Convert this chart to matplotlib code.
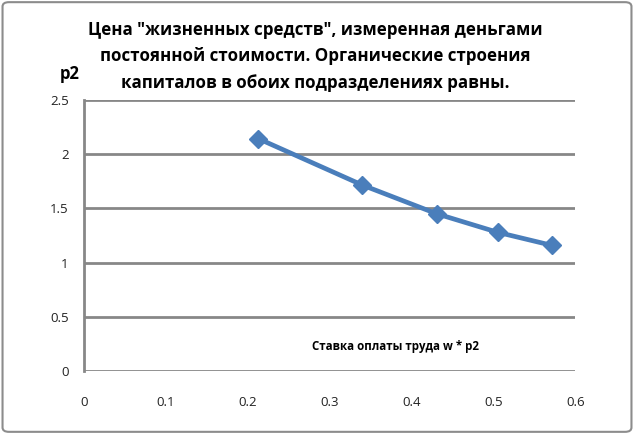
import matplotlib
matplotlib.use("Agg")
import matplotlib.pyplot as plt
from matplotlib.patches import FancyBboxPatch

# data
wage = [0.213, 0.340, 0.431, 0.505, 0.571]
p2 = [2.143, 1.715, 1.450, 1.280, 1.160]
xticks = [0, 0.1, 0.2, 0.3, 0.4, 0.5, 0.6]
yticks = [0, 0.5, 1, 1.5, 2, 2.5]

title = ('Цена "жизненных средств", измеренная деньгами\n'
         'постоянной стоимости. Органические строения\n'
         'капиталов в обоих подразделениях равны.')

plt.rcParams['font.family'] = ['Open Sans', 'DejaVu Sans']
grid_c = '#878787'
blue = '#4a7ebb'

fig = plt.figure(figsize=(6.34, 4.34), dpi=100)
fig.patches.append(FancyBboxPatch((0.004, 0.005), 0.992, 0.99,
                                  boxstyle='round,pad=0,rounding_size=0.01',
                                  transform=fig.transFigure, fill=False,
                                  edgecolor='#8c8c8c', linewidth=1.5))
ax = fig.add_axes([0.1325, 0.145, 0.775, 0.6246])

ax.plot(wage, p2, color=blue, lw=3.4, marker='D', ms=9,
        markerfacecolor=blue, markeredgecolor=blue, zorder=3)

ax.set_xlim(0, 0.6)
ax.set_ylim(0, 2.5)
ax.set_xticks(xticks)
ax.set_yticks(yticks)
ax.set_xticklabels(['0', '0.1', '0.2', '0.3', '0.4', '0.5', '0.6'])
ax.set_yticklabels(['0', '0.5', '1', '1.5', '2', '2.5'])
ax.tick_params(length=0, labelsize=9.5, colors='#222222')
ax.tick_params(axis='x', pad=18)
ax.tick_params(axis='y', pad=11)
for y in yticks:
    ax.axhline(y, color=grid_c, lw=2, zorder=1)
for s in ['top', 'right', 'bottom']:
    ax.spines[s].set_visible(False)
ax.spines['left'].set_color(grid_c)
ax.spines['left'].set_linewidth(2)

fig.text(0.497, 0.952, title, ha='center', va='top', fontsize=12.2,
         fontweight='bold', linespacing=1.6)
fig.text(0.11, 0.83, 'p2', ha='center', va='center', fontsize=12,
         fontweight='bold')
ax.text(0.463, 0.065, 'Ставка оплаты труда w * p2', transform=ax.transAxes,
        fontsize=8.3, fontweight='bold', va='bottom', ha='left')

fig.savefig('out.png', dpi=100)
